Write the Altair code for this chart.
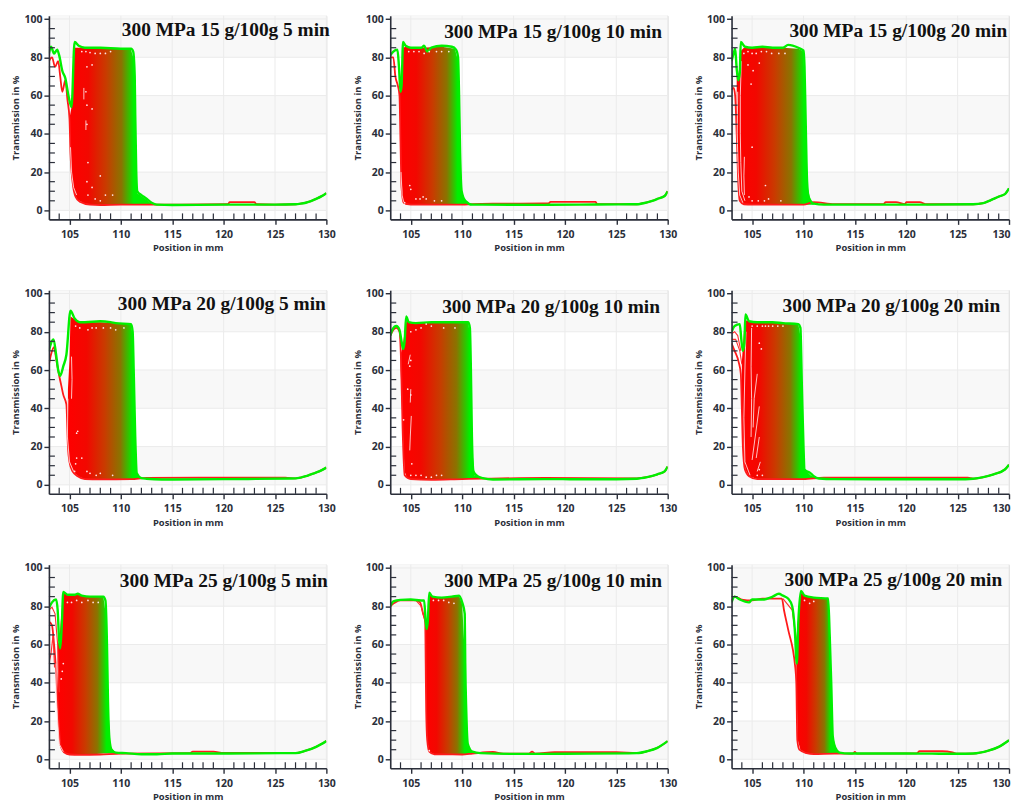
import altair as alt
import pandas as pd

# ---- values: (position mm, transmission %) ----
TITLES = ["300 MPa 15 g/100g 5 min", "300 MPa 15 g/100g 10 min", "300 MPa 15 g/100g 20 min",
          "300 MPa 20 g/100g 5 min", "300 MPa 20 g/100g 10 min", "300 MPa 20 g/100g 20 min",
          "300 MPa 25 g/100g 5 min", "300 MPa 25 g/100g 10 min", "300 MPa 25 g/100g 20 min"]

X_MAJOR = [105, 110, 115, 120, 125, 130]
X_MINOR = [104, 106, 107, 108, 109, 111, 112, 113, 114, 116, 117, 118, 119, 121, 122, 123, 124, 126, 127, 128, 129]
Y_MAJOR = [0, 20, 40, 60, 80, 100]
Y_MINOR = [5, 10, 15, 25, 30, 35, 45, 50, 55, 65, 70, 75, 85, 90, 95]
SHADE_LOW = [0, 40, 80]
SHADE_HIGH = [20, 60, 101.7]

# last (green) profile, first (red) profile, band (x, top, bottom) between them
P1_GREEN = [(103,82),(103.2,85.5),(103.5,82),(103.8,84),(104,81),(104.3,73),(104.6,69),(104.9,60),(105.2,54),(105.5,88),(105.9,86),(106.5,85),(108,85),(110,84.5),(111,84.5),(111.2,83),(111.35,70),(111.4,50),(111.5,20),(111.6,10),(112,8),(112.4,6.5),(113,4),(113.5,3),(115,2.8),(120,3),(125,3),(127,3.2),(127.5,3.5),(128,4),(128.5,4.8),(129,6),(129.5,7.3),(130,9)]
P1_RED = [(103,78),(103.3,80),(103.6,75),(103.9,78),(104.1,70),(104.3,62),(104.6,68),(104.8,58),(105,48),(105.1,30),(105.3,15),(105.6,7),(106,4.5),(107,3),(108,2.8),(110,3),(112,3),(114,3),(120.4,3.2),(120.6,4.3),(123,4.3),(123.2,3.2),(125,3),(127,3.2),(127.5,3.5),(128,4),(128.5,4.8),(129,6),(129.5,7.3),(130,9)]
P1_BAND = [(105,48,48),(105.2,54,18),(105.5,85,8),(105.8,85,5.5),(106.5,85,3.5),(108,85,3),(110,84.5,3),(111,84,3),(111.3,78,3),(111.45,40,3),(111.6,9,3),(112.4,6,3),(113,3.5,3)]
P1_SPECK = [(106.2,83),(106.6,83),(107,82.5),(107.5,82),(108,82),(108.5,82),(109,83),(106.7,75),(107.2,76),(106.6,62),(106.7,55),(107.2,53),(106.7,45),(106.8,25),(108,18),(106.7,15),(107.2,12),(106.8,8),(107.5,6),(108,5),(108.5,8),(109.2,8)]
P1_WHITE = [[(105.1,33),(105.2,20),(105.4,12),(105.7,8)], [(106.4,64),(106.4,58)], [(106.6,47),(106.6,42)]]
P1_RX = []

P2_GREEN = [(103,81),(103.3,83),(103.7,84),(103.85,75),(104,62),(104.1,65),(104.25,88),(104.5,86),(105,85),(106,85),(106.3,86),(106.6,83),(107,85),(108,86),(109,85.5),(109.4,84),(109.6,80),(109.7,60),(109.8,30),(109.95,10),(110.3,5),(111,3),(112,3),(118,2.9),(123,3.1),(127,3.2),(127.5,3.6),(128,4.2),(128.5,5),(129,6),(129.7,7.5),(130,10)]
P2_RED = [(103,80),(103.3,80),(103.5,70),(103.75,65),(103.9,60),(104,35),(104.1,12),(104.3,4),(105,3),(110,3),(111,3.3),(113,3.5),(118.4,3.6),(118.6,4.4),(123,4.4),(123.1,3.4),(127,3.2),(127.5,3.6),(128,4.2),(128.5,5),(129,6),(129.7,7.5),(130,10)]
P2_BAND = [(103.9,62,60),(104.05,65,20),(104.25,85,5),(104.5,85.5,3),(106,85,3),(108,85.5,3),(109.3,84.5,3),(109.6,78,3),(109.8,30,3),(110,8,3),(110.5,4,3),(111,3.2,3)]
P2_SPECK = [(104.8,83),(105.3,83),(105.8,83),(106.3,82),(106.8,83),(107.5,83),(108,83),(108.7,83),(104.9,13),(105,11),(105.5,6),(105.9,6),(106.2,7),(106.5,6),(107.3,5),(104.4,4),(108,5)]
P2_WHITE = [[(104.05,20),(104.15,8),(104.3,4.5)]]
P2_RX = []

P3_GREEN = [(103,78),(103.2,82),(103.35,84.5),(103.5,74),(103.65,68),(103.8,72),(103.9,88),(104.3,85.5),(105,85),(106,85.5),(107,85),(108,85),(108.5,86.5),(109.5,85),(110,83.5),(110.1,75),(110.2,50),(110.35,15),(110.5,7),(111,3.5),(112,3),(120,3),(126.5,3.2),(127.5,3.8),(128,4.8),(128.5,6),(129,7.2),(129.6,8.5),(130,11.5)]
P3_RED = [(103,63),(103.2,64),(103.35,60),(103.5,40),(103.65,15),(103.8,5),(104.2,3.2),(105,3),(110,3),(111,4.3),(113,3.3),(117.8,3.3),(118,4.3),(119,4.3),(119.9,3.3),(120,4.3),(121.3,4.3),(122,3.2),(126.5,3.2),(127.5,3.8),(128,4.8),(128.5,6),(129,7.2),(129.6,8.5),(130,11.5)]
P3_BAND = [(103.5,74,50),(103.65,68,15),(103.85,83,5),(104.2,85,3.2),(106,85,3),(108,85,3),(109.5,84.5,3),(110,83,3),(110.2,50,3),(110.4,12,3),(110.7,5,3),(111,3.3,3)]
P3_SPECK = [(104.2,82),(104.6,83),(105,82),(105.4,82),(105.9,83),(106.4,83),(106.9,82),(107.6,82),(108.2,82),(104.6,76),(105.7,77),(105.1,73),(104.9,66),(105,33),(106.3,13),(104.7,7),(105,5),(105.6,5),(106.2,5),(106.6,6),(107.8,5)]
P3_WHITE = [[(103.6,62),(103.55,40),(103.65,20),(103.8,8),(104.1,4)], [(103.95,78),(103.85,60),(103.85,40),(103.9,25),(104,10),(104.3,5)], [(104.25,28),(104.2,18),(104.25,8)]]
P3_RX = []

P4_GREEN = [(103,70),(103.2,74),(103.45,76),(103.7,68),(103.9,60),(104.1,57),(104.4,62),(104.7,68),(105.1,91),(105.5,87),(106,85),(106.5,85),(108,85.5),(109,85),(109.5,84.5),(111,84),(111.15,80),(111.25,60),(111.4,25),(111.55,6),(112,3.5),(112.5,3.2),(114,2.8),(120,3),(126.5,3.3),(127.5,3.8),(128,4.5),(128.5,5.5),(129.3,7),(130,9)]
P4_RED = [(103,63),(103.2,68),(103.5,72),(103.7,66),(104,57),(104.2,52),(104.4,47),(104.7,42),(104.85,20),(105,12),(105.3,7),(105.8,4.5),(106.5,3),(108,2.8),(111,3),(112.5,3.6),(120,3.8),(126,3.7),(127,3.4),(127.5,3.8),(128,4.5),(128.5,5.5),(129.3,7),(130,9)]
P4_BAND = [(104.85,50,22),(105,65,12),(105.1,88,10),(105.5,86.5,6),(106,85,4),(106.5,85,3),(108,85,3),(109.5,84.5,3),(111,84,3),(111.2,75,3),(111.4,25,3),(111.6,5,3),(112,3.4,3)]
P4_SPECK = [(105.6,83),(106,82),(106.8,81),(107.2,82),(107.6,82),(108.3,82),(109,82),(109.5,81),(110.3,82),(105.7,14),(105.6,11),(106.2,14),(105.7,27),(105.8,28),(106.7,7),(107,6),(107.6,5),(108,6),(109.2,5),(105.5,7)]
P4_WHITE = [[(104.85,45),(104.8,25),(105,12),(105.4,7)], [(105.2,67),(105.25,55),(105.2,45)]]
P4_RX = []

P5_GREEN = [(103,78),(103.2,81),(103.6,83),(103.9,81),(104.1,75),(104.25,71),(104.4,75),(104.55,88),(104.8,85),(105.5,84.5),(107,85),(109,85),(110.6,85),(110.75,82),(110.85,60),(110.95,25),(111.1,7),(111.5,4.5),(112,3.5),(113,2.8),(118,3),(123,2.9),(127,3.2),(128,4),(129,5.5),(129.7,7),(130,9.5)]
P5_RED = [(103,78),(103.3,81),(103.6,82),(103.9,80),(104.05,65),(104.2,30),(104.4,5),(105,3),(107,2.6),(110,3),(112,3.2),(118,3.6),(127,3.4),(128,4),(129,5.5),(129.7,7),(130,9.5)]
P5_BAND = [(104,68,62),(104.2,72,30),(104.4,80,7),(104.6,86,4),(105,84.5,3),(107,85,2.6),(109,85,3),(110.6,85,3),(110.8,75,3),(111,18,3),(111.2,5,3),(112,3.3,3)]
P5_SPECK = [(105,80),(105.5,81),(106,82),(106.5,84),(107,83),(108.2,82),(109.3,82),(104.9,62),(105,65),(104.7,50),(105,47),(104.3,34),(105,5),(105.5,5),(106,5),(106.5,4),(107,4),(107.5,5),(108,5),(105.1,11)]
P5_WHITE = [[(105.05,36),(104.95,25),(104.9,18)], [(105,50),(104.95,43)], [(104.95,68),(104.75,63)]]
P5_RX = []

P6_GREEN = [(103,80),(103.3,83),(103.8,84),(103.95,76),(104.1,70),(104.25,74),(104.35,89),(104.7,85.5),(105.5,85),(107,85),(108,84.5),(109.5,84),(109.7,82),(109.85,50),(110,20),(110.1,8),(110.7,6),(111,4.5),(111.5,3.3),(113,3),(120,2.9),(125,2.9),(126.5,3.2),(127.5,4),(128.5,5.5),(129.6,8),(130,10.5)]
P6_RED = [(103,74),(103.3,70),(103.7,64),(103.9,58),(104,40),(104.1,20),(104.3,8),(104.7,4.5),(105.5,3),(108,3),(110,3),(112,3.7),(120,3.8),(126,3.7),(126.5,3.2),(127.5,4),(128.5,5.5),(129.6,8),(130,10.5)]
P6_BAND = [(104,64,40),(104.2,80,14),(104.35,86,8),(104.7,85.5,4.5),(105.5,85,3),(108,84.5,3),(109.5,84,3),(109.75,76,3),(109.95,25,3),(110.1,8,3),(110.7,5,3),(111.3,3.3,3)]
P6_SPECK = [(105,83),(105.5,83),(106,83),(106.3,83),(106.6,83),(107,83),(107.5,83),(108,83),(105.7,74),(105.9,71),(105.7,8),(106,5),(105.5,5)]
P6_WHITE = [[(104.4,80),(104.3,60),(104.2,35),(104.3,12),(104.8,5)], [(104.95,82),(104.9,62),(104.95,45),(104.9,25)], [(105.5,58),(105.2,45),(105.1,30)], [(105.7,41),(105.3,25),(105,13)], [(105.7,25),(105.4,14)], [(105.8,12),(105.5,7)]]
P6_RX = [[(103,79),(103.3,80),(103.6,78),(103.9,70)], [(103,76),(103.4,76),(103.8,70),(104,63)]]

P7_GREEN = [(103,79),(103.3,82),(103.7,83.5),(103.85,78),(104,62),(104.1,58),(104.25,70),(104.4,87.5),(104.8,86),(105.5,86),(105.8,86.5),(106.2,85.5),(107,85),(108.3,85),(108.5,83),(108.65,60),(108.75,30),(108.9,10),(109.1,5),(109.5,3.5),(110.5,3.2),(112,2.6),(113.5,2.6),(115,3),(120,3),(126,3.2),(127,3.2),(128,4.5),(129,6.5),(130,9.5)]
P7_RED = [(103,72),(103.3,70),(103.5,60),(103.7,46),(103.85,30),(104,15),(104.15,7),(104.5,3.5),(105,2.5),(106,2.3),(108,2.5),(110,3),(116.7,3.2),(117,4),(119,4),(120,3.3),(126,3.3),(127,3.2),(128,4.5),(129,6.5),(130,9.5)]
P7_BAND = [(103.85,62,30),(104,60,15),(104.15,72,7),(104.4,87,3.5),(105,86,2.5),(106,86,2.3),(107,85,2.5),(108.3,85,3),(108.55,75,3),(108.75,30,3),(109,6,3),(109.5,3.5,3)]
P7_SPECK = [(104.8,82),(105.2,82),(105.7,83),(106.2,82),(106.8,83),(107.3,82),(107.8,82),(104.4,50),(104.3,46),(104.2,42)]
P7_WHITE = [[(103.7,50),(103.7,35),(103.85,20),(104,8),(104.4,4)]]
P7_RX = [[(103,78),(103.3,79.5),(103.6,76),(103.85,60),(104,35)], [(103,50),(103.2,55),(103.4,65),(103.55,48)]]

P8_GREEN = [(103,80),(103.3,82.5),(104,83.3),(105,83.5),(106,83),(106.3,83),(106.45,72),(106.55,68),(106.65,72),(106.8,87),(107.1,85),(108,84.5),(109,85),(109.7,85.5),(110,82),(110.25,76),(110.3,50),(110.4,25),(110.55,8),(111,4),(111.8,3.2),(115,2.8),(120,2.9),(126,3.1),(127,3.2),(128,4.2),(129,6),(130,9.5)]
P8_RED = [(103,80),(104,83),(105.5,83),(105.9,82),(106.2,76),(106.4,72),(106.45,50),(106.5,25),(106.6,10),(106.8,4),(107.3,2.6),(110,2.5),(111,3),(113,3.8),(114,3),(116.5,3),(116.8,4),(117.1,3),(119,3.7),(125,3.7),(127,3.2),(128,4.2),(129,6),(130,9.5)]
P8_BAND = [(106.4,70,60),(106.5,68,22),(106.6,72,10),(106.8,86,4),(107.3,85,2.6),(108,84.5,2.5),(109,85,2.5),(109.7,85.5,2.5),(110,81,2.5),(110.3,50,2.5),(110.55,7,2.5),(111,3.8,3),(111.8,3.1,3)]
P8_SPECK = [(107.2,83),(107.7,83),(108.2,83),(108.7,82),(109.2,81.5),(106.8,4.5)]
P8_WHITE = []
P8_RX = [[(105.5,83),(106,80),(106.4,72)]]

P9_GREEN = [(103,82),(103.3,85),(103.8,83.5),(104.7,82),(105,83.5),(106,83.5),(107,85),(107.6,86.5),(108,85.5),(108.5,84),(108.9,80),(109.15,68),(109.35,50),(109.5,72),(109.75,88),(110.1,85.5),(111,84.5),(112.4,84),(112.55,65),(112.7,40),(112.85,12),(113.1,6),(113.5,3.5),(114.5,3),(120,3),(125,2.9),(126.5,3),(128,4.5),(129,6.5),(130,10)]
P9_RED = [(103,83),(103.3,85),(104,83.5),(105,83),(106,84),(107.9,84),(108.1,78),(108.5,68),(109.2,48),(109.3,40),(109.4,10),(109.6,5),(110.3,3.2),(111,2.7),(113,3),(114.8,3),(115,3.8),(115.2,3),(121,3.1),(121.3,4.2),(123.5,4.2),(124.5,3.6),(125,2.9),(126.5,3),(128,4.5),(129,6.5),(130,10)]
P9_BAND = [(109.3,62,40),(109.45,72,10),(109.7,87,5),(110.3,85.5,3.2),(111,84.5,2.7),(112,84,2.8),(112.4,84,2.8),(112.6,55,2.8),(112.85,12,2.8),(113.2,5,3),(113.7,3.2,3)]
P9_SPECK = [(110.1,83),(110.6,81.5),(111,82.5)]
P9_WHITE = []
P9_RX = [[(108,84),(108.9,78),(109.3,62)]]

GREENS = [P1_GREEN, P2_GREEN, P3_GREEN, P4_GREEN, P5_GREEN, P6_GREEN, P7_GREEN, P8_GREEN, P9_GREEN]
REDS = [P1_RED, P2_RED, P3_RED, P4_RED, P5_RED, P6_RED, P7_RED, P8_RED, P9_RED]
BANDS = [P1_BAND, P2_BAND, P3_BAND, P4_BAND, P5_BAND, P6_BAND, P7_BAND, P8_BAND, P9_BAND]
SPECKS = [P1_SPECK, P2_SPECK, P3_SPECK, P4_SPECK, P5_SPECK, P6_SPECK, P7_SPECK, P8_SPECK, P9_SPECK]
WHITES = [P1_WHITE, P2_WHITE, P3_WHITE, P4_WHITE, P5_WHITE, P6_WHITE, P7_WHITE, P8_WHITE, P9_WHITE]
EXTRAS = [P1_RX, P2_RX, P3_RX, P4_RX, P5_RX, P6_RX, P7_RX, P8_RX, P9_RX]
FRONT_END = [111.5, 109.8, 110.3, 111.4, 111.0, 110.0, 108.8, 110.4, 112.8]

# ---- layout / style (not data) ----
W, H = 278, 204
TITLE_X = [73, 54, 58, 69, 52, 51, 71, 54, 53]
TITLE_Y = [14, 16, 15, 14, 17, 16, 16, 16, 15]
AXC = "#2b2f3a"
X_SCALE = alt.Scale(domain=[103, 130], nice=False, zero=False)
Y_SCALE = alt.Scale(domain=[-4.7, 101.7], nice=False, zero=False)


def curve(points):
    return pd.DataFrame({"x": [p[0] for p in points], "y": [p[1] for p in points], "i": range(len(points))})


def line(points, color, width, smooth=False):
    kw = {"interpolate": "monotone"} if smooth else {}
    return alt.Chart(curve(points)).mark_line(color=color, strokeWidth=width, clip=True, **kw).encode(
        x=alt.X("x:Q", scale=X_SCALE), y=alt.Y("y:Q", scale=Y_SCALE), order="i:Q")


def panel(k):
    band = BANDS[k]
    start, end = band[0][0], band[-1][0]
    edge = (FRONT_END[k] - start) / (end - start)
    gradient = alt.Gradient(
        gradient="linear", x1=0, x2=edge, y1=0, y2=0,
        stops=[alt.GradientStop(offset=0, color="#ff0000"),
               alt.GradientStop(offset=0.28, color="#f20800"),
               alt.GradientStop(offset=0.55, color="#c83c00"),
               alt.GradientStop(offset=0.78, color="#8a7400"),
               alt.GradientStop(offset=0.9, color="#30c400"),
               alt.GradientStop(offset=0.96, color="#00f000")])

    common = dict(grid=False, tickSize=5, tickWidth=1.4, tickColor=AXC, domainColor=AXC, domainWidth=1.6,
                  labelFontSize=10.5, labelFont="Open Sans", labelFontWeight="bold", labelColor=AXC,
                  titleFont="Open Sans", titleFontSize=9.4, titleFontWeight="bold",
                  titleColor=AXC, zindex=1)
    # the page must not grow wider than the window: the last column keeps "130" inside the plot's edge
    flush = dict(labelFlush=True, labelFlushOffset=1) if k % 3 == 2 else dict(labelFlush=False)
    shade = alt.Chart(pd.DataFrame({"a": SHADE_LOW, "b": SHADE_HIGH})).mark_rect(color="#f8f8f8").encode(
        y=alt.Y("a:Q", scale=Y_SCALE, axis=alt.Axis(
            title="Transmission in %", values=Y_MAJOR, labelPadding=2, titlePadding=3, labelFlush=False, **common)),
        y2="b:Q",
        x=alt.value(0), x2=alt.value(W))
    gx = alt.Chart(pd.DataFrame({"x": X_MAJOR})).mark_rule(color="#ebebeb", strokeWidth=1).encode(
        x=alt.X("x:Q", scale=X_SCALE, axis=alt.Axis(
            title="Position in mm", values=X_MAJOR, labelPadding=5, titlePadding=4, **flush, **common)))
    gy = alt.Chart(pd.DataFrame({"y": Y_MAJOR})).mark_rule(color="#ebebeb", strokeWidth=1).encode(
        y=alt.Y("y:Q", scale=Y_SCALE))
    tx = alt.Chart(pd.DataFrame({"x": X_MINOR})).mark_rule(color=AXC, strokeWidth=1.2).encode(
        x=alt.X("x:Q", scale=X_SCALE), y=alt.value(H), y2=alt.value(H - 6))
    ty = alt.Chart(pd.DataFrame({"y": Y_MINOR})).mark_rule(color=AXC, strokeWidth=1.2).encode(
        y=alt.Y("y:Q", scale=Y_SCALE), x=alt.value(0), x2=alt.value(6))

    area = alt.Chart(pd.DataFrame({"x": [b[0] for b in band], "t": [b[1] for b in band], "b": [b[2] for b in band]})
                     ).mark_area(color=gradient, line=False, opacity=1).encode(
        x=alt.X("x:Q", scale=X_SCALE), y=alt.Y("t:Q", scale=Y_SCALE), y2="b:Q")

    layers = [shade, gx, gy, area]
    layers.append(line(REDS[k], "#ff1a1a", 1.8, smooth=True))
    layers += [line(c, "#ff3030", 1.1) for c in EXTRAS[k]]
    layers += [line(c, "#ffd6d6", 0.9) for c in WHITES[k]]
    layers.append(line(GREENS[k], "#00f000", 2.4, smooth=True))
    layers.append(alt.Chart(curve(SPECKS[k])).mark_point(filled=True, color="#ffe4e4", size=3, opacity=1).encode(
        x=alt.X("x:Q", scale=X_SCALE), y=alt.Y("y:Q", scale=Y_SCALE)))
    layers += [tx, ty]
    layers.append(alt.Chart(pd.DataFrame({"t": [TITLES[k]]})).mark_text(
        align="left", baseline="middle", font="Liberation Serif", fontSize=19.4, fontWeight="bold", color="#111111"
    ).encode(text="t:N", x=alt.value(TITLE_X[k]), y=alt.value(TITLE_Y[k])))
    return alt.layer(*layers).properties(width=W, height=H)


chart = alt.concat(*[panel(k) for k in range(9)], columns=3, spacing={"column": 15, "row": 34}).properties(
    padding={"left": 2, "top": 4, "right": 0, "bottom": 0}
).configure_view(stroke="#9a9a9a", strokeWidth=1).configure(background="white")

chart.save("out.html", embed_options={"renderer": "svg", "actions": False})
